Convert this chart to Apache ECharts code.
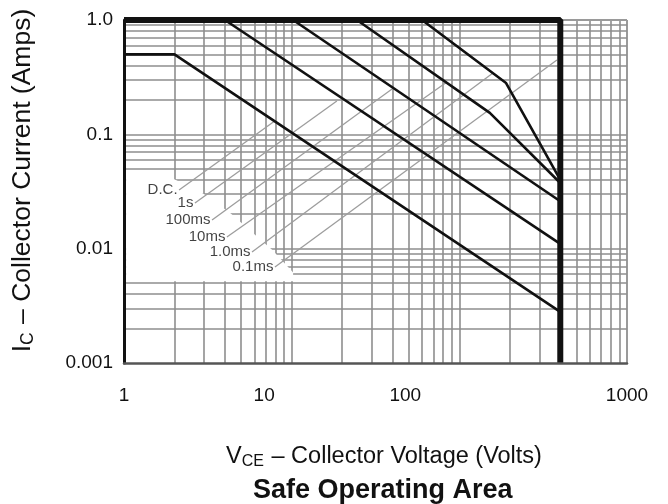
<!DOCTYPE html>
<html><head><meta charset="utf-8">
<script src="https://cdn.jsdelivr.net/npm/echarts@6/dist/echarts.min.js"></script>
<style>html,body{margin:0;padding:0;background:#fff}#c{width:668px;height:504px}</style>
</head><body><div id="c"></div>
<script>
// ---- data ----
const xTickValues = [1, 10, 100, 1000];
const xTickLabels = ['1', '10', '100', '1000'];
const yTickValues = [0.001, 0.01, 0.1, 1];
const yTickLabels = ['0.001', '0.01', '0.1', '1.0'];

// SOA curves [V_CE, I_C]
const dcCurve    = [[1, 0.5], [2, 0.5], [400, 0.0028]];
const s1Curve    = [[4.0, 1.0], [400, 0.011]];
const ms100Curve = [[10.2, 1.0], [400, 0.026]];
const ms10Curve  = [[24.5, 1.0], [152, 0.154], [400, 0.0375]];
const ms1Curve   = [[59.9, 1.0], [190, 0.281], [400, 0.040]];
const ms01Curve  = [[1, 1.0], [400, 1.0], [400, 0.001]];

// leader lines for the curve labels
const leaderLabels = ['D.C.', '1s', '100ms', '10ms', '1.0ms', '0.1ms'];
const leaderStarts = [[2.13, 0.0326], [2.65, 0.0251], [3.35, 0.0178], [4.11, 0.01265], [5.80, 0.00935], [7.95, 0.00691]];
const leaderEnds   = [[7.81, 0.129], [18.6, 0.196], [39.7, 0.249], [84.4, 0.287], [158.8, 0.344], [382, 0.447]];

// blank area behind the labels (no grid lines there)
const labelMask = [[1.03, 0.0415], [1.93, 0.0415], [3.0, 0.030], [4.3, 0.0205], [7.7, 0.0097], [10.2, 0.0062], [10.2, 0.0052], [1.03, 0.0052]];

// grid line multipliers / decades
const gridMultipliers = [1, 2, 3, 4, 5, 6, 7, 8, 9];
const xDecades = [1, 10, 100];
const yDecades = [0.001, 0.01, 0.1];

// ---- chart ----
const FONT = 'Liberation Sans, Arial, Helvetica, sans-serif';
const chart = echarts.init(document.getElementById('c'), null, {renderer: 'canvas'});

const gridLines = [];
xDecades.forEach(d => gridMultipliers.forEach(m => { const v = +(d * m).toPrecision(6); if (v > 1) gridLines.push({xAxis: v}); }));
gridLines.push({xAxis: 1000, lineStyle: {color: '#9a9a9a', width: 2}});
yDecades.forEach(d => gridMultipliers.forEach(m => { const v = +(d * m).toPrecision(6); if (v > 0.001) gridLines.push({yAxis: v}); }));
gridLines.push({yAxis: 1, lineStyle: {color: '#9a9a9a', width: 2}});

function idxOf(vals, v) {
  let best = 0, bd = Infinity;
  vals.forEach((t, i) => { const d = Math.abs(Math.log10(t) - Math.log10(v)); if (d < bd) { bd = d; best = i; } });
  return bd < 1e-6 ? best : -1;
}

const curveStyle = {color: '#111', width: 2.6};
function curve(data) {
  return {type: 'line', data, symbol: 'none', z: 5, lineStyle: curveStyle, animation: false, silent: true};
}

const leaderSeries = leaderStarts.map((s, i) => ({
  type: 'line', data: [s, leaderEnds[i]], symbol: 'none', z: 3, animation: false, silent: true,
  lineStyle: {color: '#9d9d9d', width: 1.3}
}));

const option = {
  animation: false,
  backgroundColor: '#fff',
  title: {
    text: 'Safe Operating Area', left: 253, top: 477, padding: 0,
    textStyle: {fontFamily: FONT, fontSize: 27, fontWeight: 'bold', color: '#111'}
  },
  grid: {left: 124, top: 20, right: 41, bottom: 141},
  xAxis: {
    type: 'log', logBase: 10, min: 1, max: 1000, z: 10,
    name: '{a|V}{s|CE}{a| – Collector Voltage (Volts)}',
    nameLocation: 'middle', nameGap: 81,
    nameTextStyle: {
      fontFamily: FONT, fontSize: 23.5, color: '#111', padding: [0, 0, 0, 17],
      rich: {a: {fontFamily: FONT, fontSize: 23.5, color: '#111'},
             s: {fontFamily: FONT, fontSize: 16, color: '#111', verticalAlign: 'bottom', padding: [10, 1, 0, 0]}}
    },
    axisLine: {show: true, lineStyle: {color: '#555', width: 2.5}},
    axisTick: {show: false},
    splitLine: {show: false},
    axisLabel: {
      margin: 23, color: '#111', fontFamily: FONT, fontSize: 19,
      formatter: v => { const i = idxOf(xTickValues, v); return i < 0 ? '' : '{t' + i + '|' + xTickLabels[i] + '}'; },
      rich: {
        t0: {fontFamily: FONT, fontSize: 19, color: '#111'},
        t1: {fontFamily: FONT, fontSize: 19, color: '#111', padding: [0, 55, 0, 0]},
        t2: {fontFamily: FONT, fontSize: 19, color: '#111', padding: [0, 108, 0, 0]},
        t3: {fontFamily: FONT, fontSize: 19, color: '#111'}
      }
    }
  },
  yAxis: {
    type: 'log', logBase: 10, min: 0.001, max: 1, z: 10,
    name: '{a|I}{s|C}{a| – Collector Current (Amps)}',
    nameLocation: 'middle', nameGap: 87, nameRotate: 90,
    nameTextStyle: {
      fontFamily: FONT, fontSize: 26.5, color: '#111', padding: [0, 0, 0, 22],
      rich: {a: {fontFamily: FONT, fontSize: 26.5, color: '#111'},
             s: {fontFamily: FONT, fontSize: 17.5, color: '#111', verticalAlign: 'bottom', padding: [11, 1, 0, 0]}}
    },
    axisLine: {show: true, lineStyle: {color: '#111', width: 3}},
    axisTick: {show: false},
    splitLine: {show: false},
    axisLabel: {
      margin: 11, color: '#111', fontFamily: FONT, fontSize: 19,
      formatter: v => { const i = idxOf(yTickValues, v); return i < 0 ? '' : yTickLabels[i]; }
    }
  },
  series: [
    {
      type: 'line', data: [], z: 1, animation: false, silent: true,
      markLine: {
        z: 1, precision: 8, silent: true, animation: false, symbol: ['none', 'none'], label: {show: false},
        lineStyle: {color: '#8e8e8e', width: 1.6, type: 'solid'},
        data: gridLines
      }
    },
    {
      type: 'custom', z: 2, silent: true, animation: false, data: [[1, 0.01]],
      renderItem: (params, api) => ({
        type: 'polygon',
        shape: {points: labelMask.map(p => api.coord(p))},
        style: {fill: '#ffffff'}
      })
    },
    ...leaderSeries,
    {
      type: 'scatter', z: 4, silent: true, animation: false, symbolSize: 1,
      itemStyle: {color: 'rgba(0,0,0,0)'},
      data: leaderStarts.map((s, i) => ({value: s, name: leaderLabels[i]})),
      label: {show: true, position: 'left', distance: 1, formatter: p => p.name,
              fontFamily: FONT, fontSize: 15, color: '#111'}
    },
    curve(dcCurve), curve(s1Curve), curve(ms100Curve), curve(ms10Curve), curve(ms1Curve),
    {type: 'line', data: ms01Curve, symbol: 'none', z: 6, animation: false, silent: true,
     lineStyle: {color: '#111', width: 6}}
  ]
};
chart.setOption(option);
</script></body></html>
